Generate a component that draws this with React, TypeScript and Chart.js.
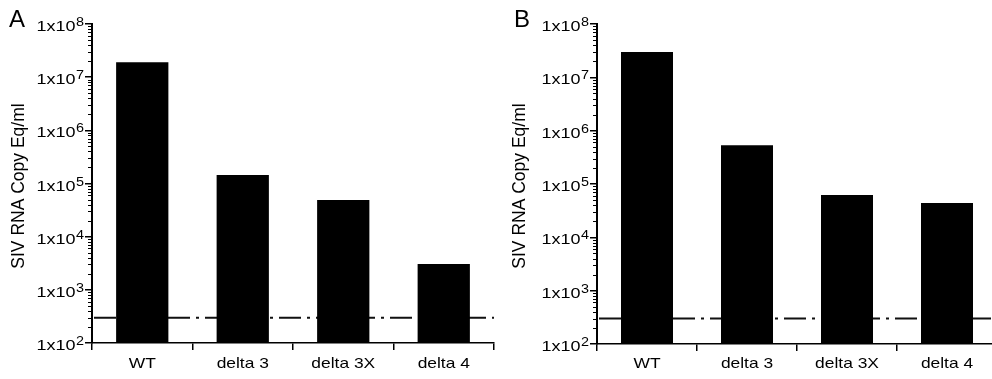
import React, { useEffect, useRef } from "react";
import { Chart, registerables } from "chart.js";

Chart.register(...registerables);

const categories = ["WT", "delta 3", "delta 3X", "delta 4"];
const panelAValues = [1.9e7, 1.44e5, 4.9e4, 3.05e3];
const panelBValues = [3.0e7, 5.3e5, 6.2e4, 4.4e4];
const detectionLimit = 300;
const decadeTicks = [1e2, 1e3, 1e4, 1e5, 1e6, 1e7, 1e8];
const panelLetters = ["A", "B"];
const yTitle = "SIV RNA Copy Eq/ml";

const FONT = "'Liberation Sans', Arial, Helvetica, sans-serif";
const SX = 1.2; // horizontal stretch of the printed labels

function drawStretched(ctx: any, text: string, x: number, y: number, size: number, align: string) {
  ctx.save();
  ctx.font = `${size}px ${FONT}`;
  ctx.textAlign = align;
  ctx.textBaseline = "alphabetic";
  ctx.translate(x, y);
  ctx.scale(SX, 1);
  ctx.fillText(text, 0, 0);
  ctx.restore();
}

const extrasPlugin = {
  id: "extras",
  beforeDatasetsDraw(chart: any) {
    const y = chart.scales.y;
    const area = chart.chartArea;
    const ctx = chart.ctx;
    const py = y.getPixelForValue(detectionLimit);
    ctx.save();
    ctx.strokeStyle = "#111";
    ctx.lineWidth = 2;
    ctx.setLineDash([22, 6, 3, 6]);
    ctx.beginPath();
    ctx.moveTo(area.left + 2, py);
    ctx.lineTo(area.right, py);
    ctx.stroke();
    ctx.restore();
  },
  afterDraw(chart: any, _args: any, opts: any) {
    const y = chart.scales.y;
    const x = chart.scales.x;
    const ctx = chart.ctx;
    const x0 = y.right;
    ctx.save();
    ctx.fillStyle = "#000";
    ctx.strokeStyle = "#000";
    ctx.lineWidth = 1;
    // minor ticks
    for (let i = 0; i < decadeTicks.length - 1; i++) {
      for (let k = 2; k <= 9; k++) {
        const py = Math.round(y.getPixelForValue(decadeTicks[i] * k)) + 0.5;
        ctx.beginPath();
        ctx.moveTo(x0 - 4, py);
        ctx.lineTo(x0, py);
        ctx.stroke();
      }
    }
    // y tick labels 1x10^n
    const rightEdge = x0 - 8;
    for (const v of decadeTicks) {
      const py = y.getPixelForValue(v);
      const exp = String(Math.round(Math.log10(v)));
      ctx.font = `12px ${FONT}`;
      const we = ctx.measureText(exp).width * SX;
      drawStretched(ctx, exp, rightEdge, py + 2, 12, "right");
      drawStretched(ctx, "1x10", rightEdge - we - 0.5, py + 7, 15, "right");
    }
    // x category labels
    categories.forEach((c, i) => {
      const px = x.getPixelForValue(i);
      drawStretched(ctx, c, px, 368, 14.5, "center");
    });
    // y axis title
    ctx.save();
    ctx.translate(opts.titleX, 186);
    ctx.rotate(-Math.PI / 2);
    ctx.font = `17.5px ${FONT}`;
    ctx.textAlign = "center";
    ctx.textBaseline = "middle";
    ctx.fillText(yTitle, 0, 0);
    ctx.restore();
    // panel letter
    ctx.font = `24px ${FONT}`;
    ctx.textAlign = "left";
    ctx.textBaseline = "alphabetic";
    ctx.fillText(opts.letter, opts.letterX, 27);
    ctx.restore();
  },
};

type PanelProps = {
  values: number[];
  letter: string;
  left: number;
  width: number;
  axisLeft: number;
  axisRight: number;
  bottom: number;
  titleX: number;
  letterX: number;
};

function Panel(p: PanelProps) {
  const ref = useRef<HTMLCanvasElement>(null);
  useEffect(() => {
    if (!ref.current) return;
    const chart = new Chart(ref.current, {
      type: "bar",
      data: {
        labels: categories,
        datasets: [
          {
            data: p.values,
            backgroundColor: "#000",
            borderWidth: 0,
            barPercentage: 0.52,
            categoryPercentage: 1,
          },
        ],
      },
      options: {
        animation: false,
        responsive: false,
        maintainAspectRatio: false,
        layout: { padding: { left: 0, right: p.width - p.axisRight, top: 24, bottom: 0 } },
        plugins: {
          legend: { display: false },
          tooltip: { enabled: false },
          extras: { titleX: p.titleX, letter: p.letter, letterX: p.letterX },
        } as any,
        scales: {
          x: {
            grid: {
              drawOnChartArea: false,
              tickLength: 7,
              color: "#000",
              lineWidth: 1.5,
              offset: true,
            },
            border: { display: true, color: "#000", width: 1.5 },
            ticks: { display: false },
            afterFit: (s: any) => {
              s.height = 379 - p.bottom;
            },
          },
          y: {
            type: "logarithmic",
            min: 1e2,
            max: 1e8,
            afterBuildTicks: (s: any) => {
              s.ticks = decadeTicks.map((v) => ({ value: v, major: true }));
            },
            grid: {
              drawOnChartArea: false,
              tickLength: 7,
              color: "#000",
              lineWidth: 1.5,
            },
            border: { display: true, color: "#000", width: 2 },
            ticks: { display: false },
            afterFit: (s: any) => {
              s.width = p.axisLeft;
            },
          },
        },
      },
      plugins: [extrasPlugin],
    });
    return () => chart.destroy();
  }, []);
  return (
    <div style={{ position: "absolute", left: p.left, top: 0, width: p.width, height: 379 }}>
      <canvas ref={ref} width={p.width} height={379} style={{ display: "block" }} />
    </div>
  );
}

export default function App() {
  return (
    <div
      style={{
        position: "fixed",
        left: 0,
        top: 0,
        width: 992,
        height: 379,
        overflow: "hidden",
        background: "#fff",
      }}
    >
      <Panel values={panelAValues} letter={panelLetters[0]} left={0} width={496} axisLeft={92} axisRight={494} bottom={343} titleX={19} letterX={9} />
      <Panel values={panelBValues} letter={panelLetters[1]} left={496} width={504} axisLeft={101} axisRight={501} bottom={344} titleX={24} letterX={18} />
    </div>
  );
}
